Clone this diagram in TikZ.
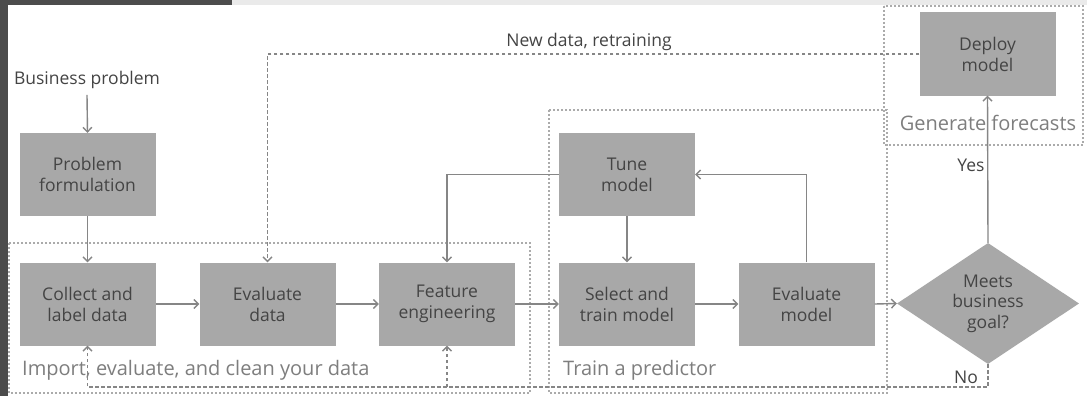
\documentclass[tikz,border=0pt]{standalone}
\usepackage{fontspec}
\setmainfont{Open Sans}
\usetikzlibrary{arrows.meta,shapes.geometric}
\definecolor{boxfill}{HTML}{A8A8A8}
\definecolor{boxtext}{HTML}{444444}
\definecolor{lbl}{HTML}{7E7E7E}
\definecolor{conn}{HTML}{868686}
\definecolor{reg}{HTML}{ABABAB}
\definecolor{frame}{HTML}{4C4C4C}
\definecolor{strip}{HTML}{EAEAEA}
\tikzset{
  stepbox/.style={draw=none,fill=boxfill,minimum width=136pt,minimum height=83pt,
    align=center,text=boxtext,font=\fontsize{17.5}{21}\selectfont,inner sep=0pt},
  decide/.style={diamond,fill=boxfill,minimum width=182pt,minimum height=121pt,aspect=1.5,
    align=center,text=boxtext,font=\fontsize{17.5}{20.5}\selectfont,inner sep=0pt},
  arr/.style={draw=conn,line width=1.4pt,-{Straight Barb[length=4.5pt,width=9pt]}},
  dasharr/.style={draw=conn,line width=1.4pt,dash pattern=on 3.5pt off 2.5pt,-{Straight Barb[length=4.5pt,width=9pt]}},
  region/.style={draw=reg,line width=1.2pt,dash pattern=on 2pt off 2pt},
  regtext/.style={text=lbl,font=\fontsize{20}{24}\selectfont,inner sep=0pt},
  plain/.style={text=boxtext,font=\fontsize{17.5}{20}\selectfont,inner sep=0pt},
}
\begin{document}
\begin{tikzpicture}[x=1pt,y=-1pt]
\useasboundingbox (0,0) rectangle (1087,396);
\fill[white] (0,0) rectangle (1087,396);
% screenshot frame
\fill[strip] (232,0) rectangle (1087,5);
\fill[frame] (0,0) rectangle (8,396);
\fill[frame] (0,0) rectangle (232,5);
% regions
\draw[region] (9,243) rectangle (530,393);
\draw[region] (549,110) rectangle (887,393);
\draw[region] (884,6) rectangle (1083,145);
\node[regtext,anchor=west] (lblimport) at (22,370) {Import, evaluate, and clean your data};
\node[regtext,anchor=west] (lbltrain) at (563,370) {Train a predictor};
\node[regtext] (lblgen) at (988,123) {Generate forecasts};
% nodes
\node[plain] (bp) at (87,80) {Business problem};
\node[stepbox] (pf) at (87.5,174.5) {Problem\\formulation};
\node[stepbox] (collect) at (87.5,304) {Collect and\\label data};
\node[stepbox] (evaldata) at (267.5,304) {Evaluate\\data};
\node[stepbox] (feature) at (447,304) {Feature\\engineering};
\node[stepbox] (select) at (627,304) {Select and\\train model};
\node[stepbox] (evalmodel) at (806.5,304) {Evaluate\\model};
\node[stepbox] (tune) at (627,174.5) {Tune\\model};
\node[stepbox] (deploy) at (987.5,54) {Deploy\\model};
\node[decide] (goal) at (988,303.5) {Meets\\business\\goal?};
\node[plain] (yes) at (971,165) {Yes};
\node[plain] (no) at (966,377) {No};
\node[plain] (newdata) at (589,42) {New data, retraining};
% connectors
\draw[arr] ([yshift=-6pt]bp.south) -- (pf.north);
\draw[arr] (pf.south) -- (collect.north);
\draw[arr] (collect.east) -- (evaldata.west);
\draw[arr] (evaldata.east) -- (feature.west);
\draw[arr] (feature.east) -- (select.west);
\draw[arr] (select.east) -- (evalmodel.west);
\draw[arr] (evalmodel.east) -- (goal.west);
\draw[arr] (tune.south) -- (select.north);
\draw[arr] (evalmodel.north) |- (tune.east);
\draw[arr] (tune.west) -| (feature.north);
\draw[arr] (goal.north) -- (deploy.south);
\draw[dasharr] (deploy.west) -| (evaldata.north);
\coordinate (nobot) at (988,387);
\draw[dasharr] (goal.south) -- (nobot) -| (collect.south);
\draw[dasharr] (feature.south |- nobot) -- (feature.south);
\end{tikzpicture}
\end{document}
